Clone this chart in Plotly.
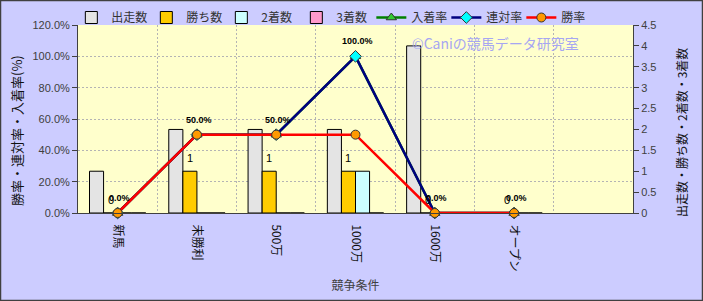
import plotly.graph_objects as go

categories = ["新馬", "未勝利", "500万", "1000万", "1600万", "オープン"]
starts = [1, 2, 2, 2, 4, 0]
wins = [0, 1, 1, 1, 0, 0]
seconds = [0, 0, 0, 1, 0, 0]
thirds = [0, 0, 0, 0, 0, 0]
place_rate = [0.0, 0.5, 0.5, 1.0, 0.0, 0.0]
quinella_rate = [0.0, 0.5, 0.5, 1.0, 0.0, 0.0]
win_rate = [0.0, 0.5, 0.5, 0.5, 0.0, 0.0]
left_ticks = [0.0, 0.2, 0.4, 0.6, 0.8, 1.0, 1.2]
right_ticks = [0, 0.5, 1, 1.5, 2, 2.5, 3, 3.5, 4, 4.5]
left_title = "勝率・連対率・入着率(%)"
right_title = "出走数・勝ち数・2着数・3着数"
x_title = "競争条件"
n_slots = 7

W, H = 703, 301
ML, MR, MT, MB = 78, 70, 25, 88
PW, PH = W - ML - MR, H - MT - MB
BARGAP = 0.29

x = list(range(len(categories)))
FONT = "Liberation Sans, Arial, Noto Sans CJK JP"
JFONT = "Noto Sans CJK JP, Liberation Sans"
TXT = "#404040"


def px_x(p):
    return (p - ML) / PW


def px_y(p):
    return (MT + PH - p) / PH


fig = go.Figure()
bar_specs = [
    ("出走数", starts, "#e4e4e4"),
    ("勝ち数", wins, "#ffcc00"),
    ("2着数", seconds, "#ccffff"),
    ("3着数", thirds, "#ff99cc"),
]
for name, vals, col in bar_specs:
    fig.add_trace(go.Bar(
        x=x, y=vals, name=name, yaxis="y",
        marker=dict(color=col, line=dict(color="#000000", width=1)),
    ))

line_specs = [
    ("入着率", place_rate, "#008000", "triangle-up", "#33cc33", 9),
    ("連対率", quinella_rate, "#000080", "diamond", "#00ffff", 9),
    ("勝率", win_rate, "#ff0000", "circle", "#ff9900", 9),
]
for name, vals, lc, sym, mc, ms in line_specs:
    fig.add_trace(go.Scatter(
        x=x, y=vals, name=name, yaxis="y2", mode="lines+markers",
        line=dict(color=lc, width=2.5),
        marker=dict(symbol=sym, color=mc, size=ms, line=dict(color="#333333", width=1)),
        cliponaxis=False,
    ))

annotations = []
for xi, v in zip(x, place_rate):
    annotations.append(dict(
        x=xi, y=v, xref="x", yref="y2", text=f"{v:.1%}", showarrow=False,
        yanchor="bottom", yshift=8, xshift=2,
        font=dict(family=FONT, size=9, color="#000000", weight="bold"),
    ))
group_w = 1 - BARGAP
bar_w = group_w / 4
win_off = -group_w / 2 + 1.5 * bar_w
for xi, v in zip(x, wins):
    annotations.append(dict(
        x=xi + win_off, y=v, xref="x", yref="y", text=str(v), showarrow=False,
        yanchor="bottom", yshift=5, font=dict(family=FONT, size=11, color="#000000"),
    ))
annotations.append(dict(
    x=px_x(495), y=px_y(43), xref="paper", yref="paper",
    xanchor="center", yanchor="middle", text="©Caniの競馬データ研究室",
    showarrow=False, font=dict(family=JFONT, size=14, color="#a6a6f2"),
))
annotations.append(dict(
    x=px_x(16), y=px_y(131), xref="paper", yref="paper", xanchor="center", yanchor="middle",
    text=left_title, textangle=-90, showarrow=False,
    font=dict(family=JFONT, size=13, color="#111111"),
))
annotations.append(dict(
    x=px_x(681), y=px_y(133), xref="paper", yref="paper", xanchor="center", yanchor="middle",
    text=right_title, textangle=-90, showarrow=False,
    font=dict(family=JFONT, size=12, color="#111111"),
))

fig.update_layout(
    width=W, height=H,
    margin=dict(l=ML, r=MR, t=MT, b=MB, autoexpand=False),
    paper_bgcolor="#ccccff", plot_bgcolor="#ffffcc",
    barmode="group", bargap=BARGAP, bargroupgap=0,
    font=dict(family=FONT, size=11, color=TXT),
    showlegend=True,
    legend=dict(orientation="h", x=-0.012, xanchor="left", y=1 + 22 / PH, yanchor="top",
                font=dict(family=JFONT, size=12, color="#333333"),
                entrywidth=30, entrywidthmode="pixels",
                bgcolor="rgba(0,0,0,0)", traceorder="normal"),
    xaxis=dict(
        range=[-0.5, n_slots - 0.5], tickvals=x, ticktext=categories, tickangle=90,
        showgrid=False, showline=True, linecolor="#404040", linewidth=1,
        ticks="", ticklabelstandoff=8, tickfont=dict(family=JFONT, size=12, color="#111111"),
        minor=dict(tick0=0.5, dtick=1, showgrid=True, gridcolor="#b4b4b4", griddash="2px,2px", gridwidth=1),
        title=dict(text=x_title, font=dict(family=JFONT, size=12, color=TXT), standoff=10),
        zeroline=False, fixedrange=True,
    ),
    yaxis=dict(
        side="right", range=[0, 4.5], tickvals=right_ticks, ticktext=[f"{v:g}" for v in right_ticks],
        showgrid=False, showline=True, linecolor="#404040", linewidth=1,
        ticks="outside", ticklen=5, tickcolor="#404040",
        tickfont=dict(family=FONT, size=11, color=TXT), zeroline=False,
    ),
    yaxis2=dict(
        side="left", overlaying="y", range=[0, 1.2], tickvals=left_ticks, tickformat=".1%",
        showgrid=True, gridcolor="#b4b4b4", griddash="2px,2px", gridwidth=1,
        showline=True, linecolor="#404040", linewidth=1,
        ticks="outside", ticklen=5, tickcolor="#404040",
        tickfont=dict(family=FONT, size=11, color=TXT), zeroline=False,
    ),
    annotations=annotations,
    shapes=[dict(
        type="rect", xref="paper", yref="paper",
        x0=px_x(0.5), x1=px_x(W - 0.5),
        y0=px_y(H - 0.5), y1=px_y(0.5),
        line=dict(color="#404040", width=1.5), layer="above",
    )],
)

fig.write_html("out.html")
